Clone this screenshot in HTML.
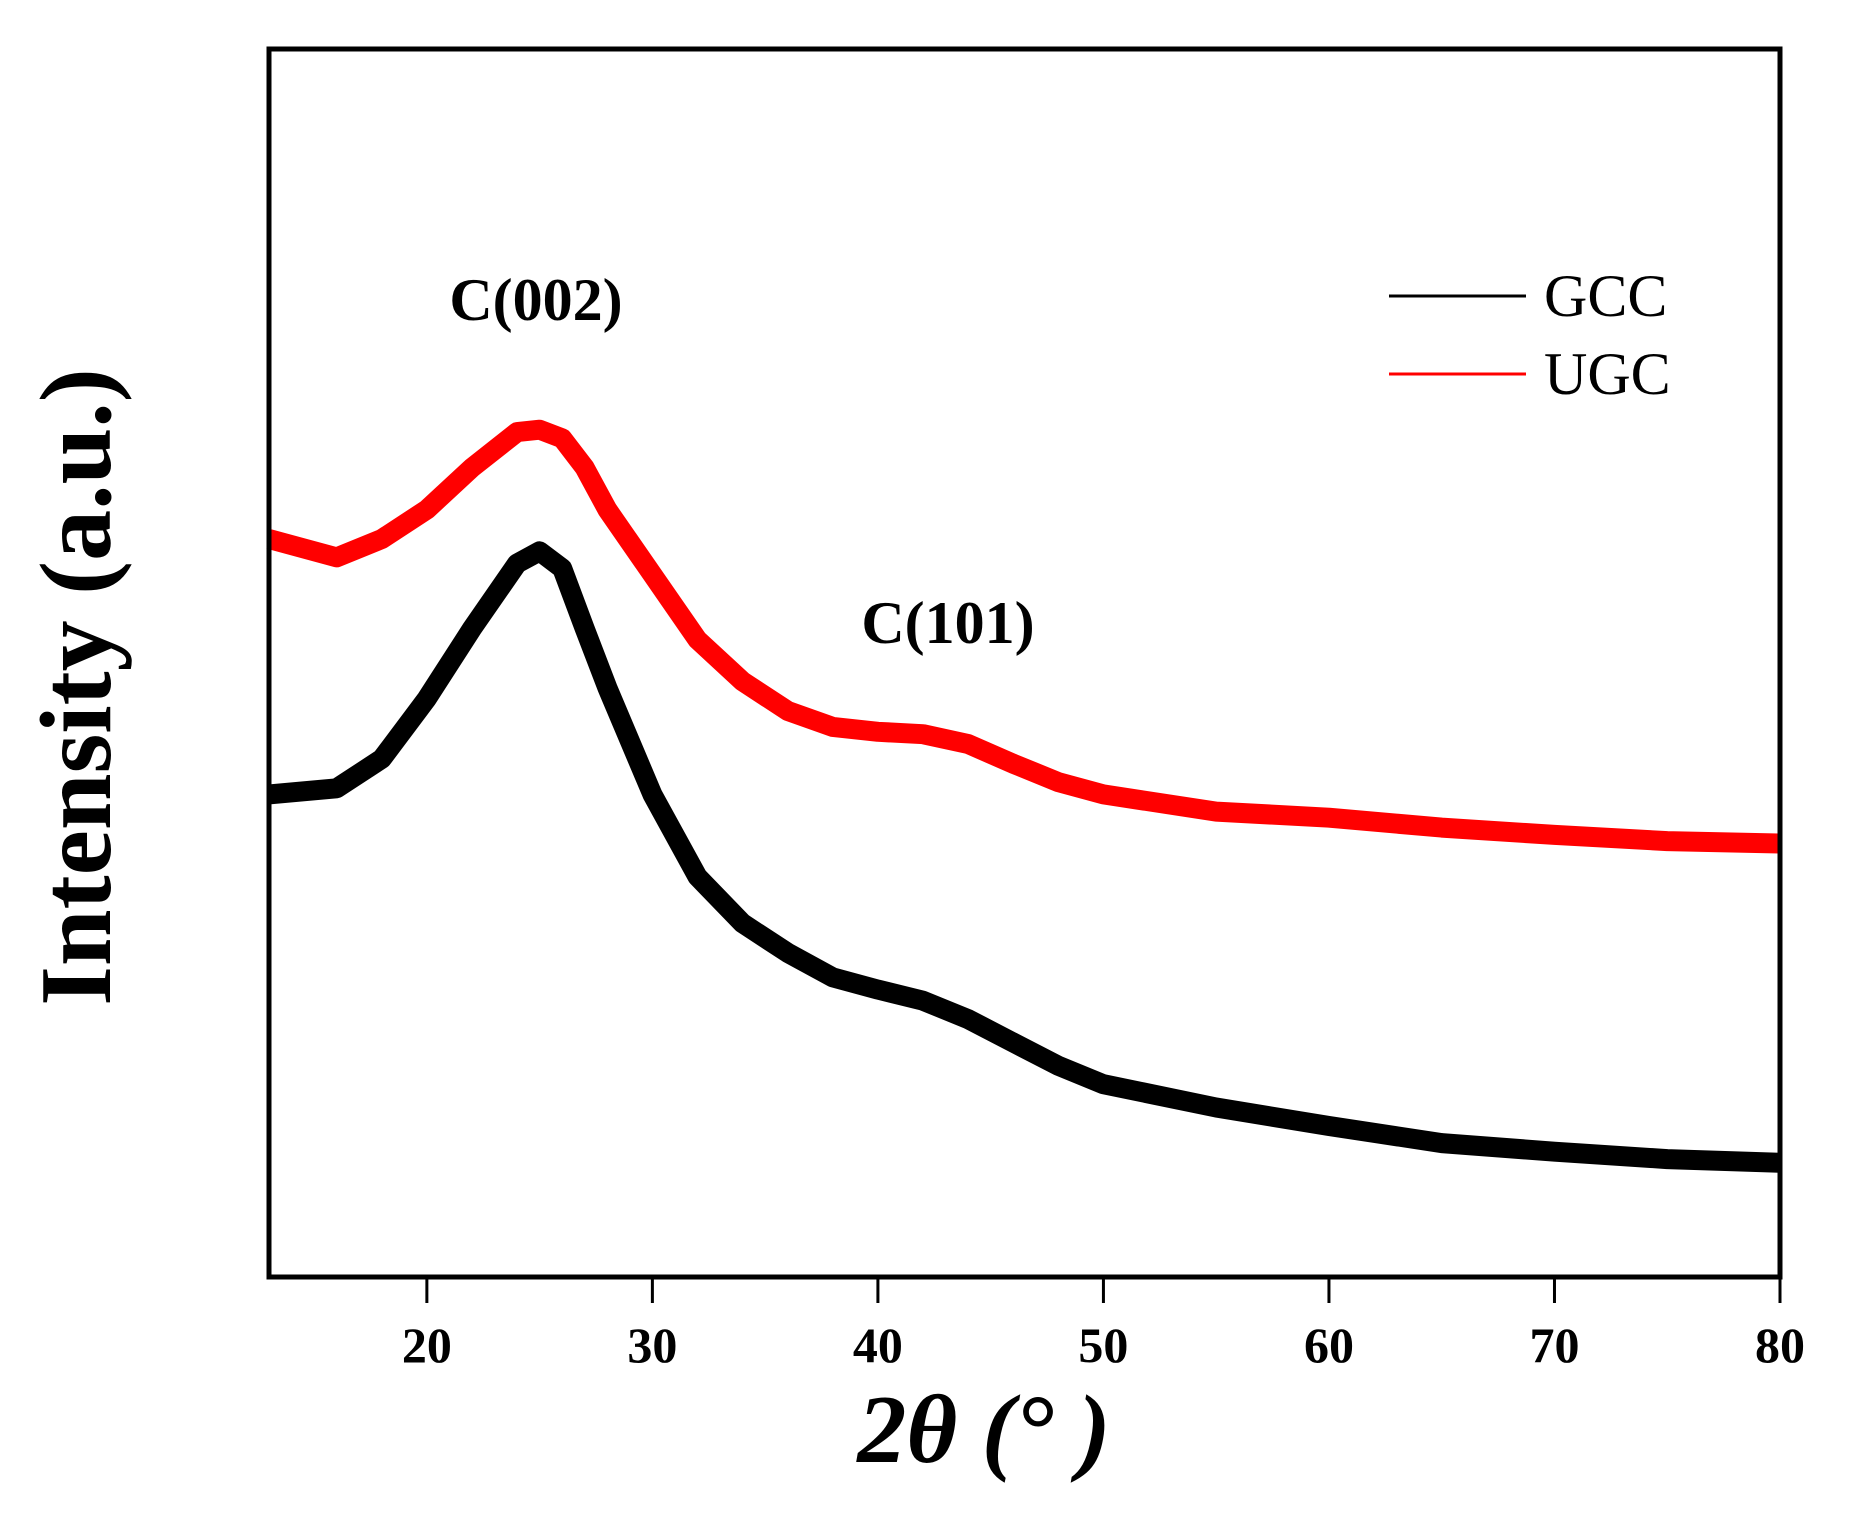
<!DOCTYPE html>
<html><head><meta charset="utf-8"><style>
html,body{margin:0;padding:0;background:#fff;}
svg{display:block;font-family:"Liberation Serif",serif;}
</style></head><body>
<svg id="chart" width="1857" height="1518" viewBox="0 0 1857 1518">
<g id="series"></g>
<rect x="269" y="49" width="1511" height="1228" fill="none" stroke="#000" stroke-width="5"/>
<g id="xticks"></g>
<text x="536" y="320" font-size="60" font-weight="bold" text-anchor="middle">C(002)</text>
<text x="948" y="643" font-size="60" font-weight="bold" text-anchor="middle">C(101)</text>
<g>
<line x1="1389" y1="296" x2="1526" y2="296" stroke="#000" stroke-width="3"/>
<text x="1544" y="316" font-size="60">GCC</text>
<line x1="1389" y1="374" x2="1526" y2="374" stroke="#f00" stroke-width="3"/>
<text x="1544" y="394" font-size="60">UGC</text>
</g>
<text x="984" y="1462" font-size="98" font-weight="bold" font-style="italic" text-anchor="middle">2θ (°  )</text>
<text transform="translate(110,687) rotate(-90)" font-size="102" font-weight="bold" text-anchor="middle">Intensity (a.u.)</text>
</svg>
<script>
const angles=[13,16,18,20,22,24,25,26,27,28,30,32,34,36,38,40,42,44,46,48,50,55,60,65,70,75,80];
const gccValues=[393,398,422,471,528,581,591,577,528,480,393,326,288,264,244,234,225,210,191,172,157,138,123,109,102,96,93];
const ugcValues=[601,586,601,625,659,688,690,683,659,625,572,519,485,461,448,444,442,434,418,403,393,379,374,366,360,355,353];
const xTicks=[20,30,40,50,60,70,80];
const NS='http://www.w3.org/2000/svg';
const X0=269,X1=1780,Y0=1277,Y1=49,XMIN=13,XMAX=80,YMAX=1000;
function xs(v){return X0+(v-XMIN)/(XMAX-XMIN)*(X1-X0);}
function ys(v){return Y0-v/YMAX*(Y0-Y1);}
const g=document.getElementById('series');
function draw(vals,color,name){
  let d='';
  vals.forEach((v,i)=>{d+=(i?'L':'M')+xs(angles[i]).toFixed(1)+' '+ys(v).toFixed(1);});
  const p=document.createElementNS(NS,'path');
  p.setAttribute('d',d);p.setAttribute('fill','none');p.setAttribute('stroke',color);
  p.setAttribute('stroke-width','20');p.setAttribute('stroke-linejoin','round');
  
  
  g.appendChild(p);
}
draw(ugcValues,'#f00','ugc-series');
draw(gccValues,'#000','gcc-series');
const xt=document.getElementById('xticks');
xTicks.forEach(t=>{
  const l=document.createElementNS(NS,'line');
  l.setAttribute('x1',xs(t));l.setAttribute('x2',xs(t));l.setAttribute('y1',1277);l.setAttribute('y2',1303);
  l.setAttribute('stroke','#000');l.setAttribute('stroke-width','3');
  
  
  xt.appendChild(l);
  const tx=document.createElementNS(NS,'text');
  tx.setAttribute('x',xs(t));tx.setAttribute('y',1362);tx.setAttribute('font-size','50');
  tx.setAttribute('font-weight','bold');tx.setAttribute('text-anchor','middle');
  tx.textContent=t;
  
  
  xt.appendChild(tx);
});
</script>
</body></html>
